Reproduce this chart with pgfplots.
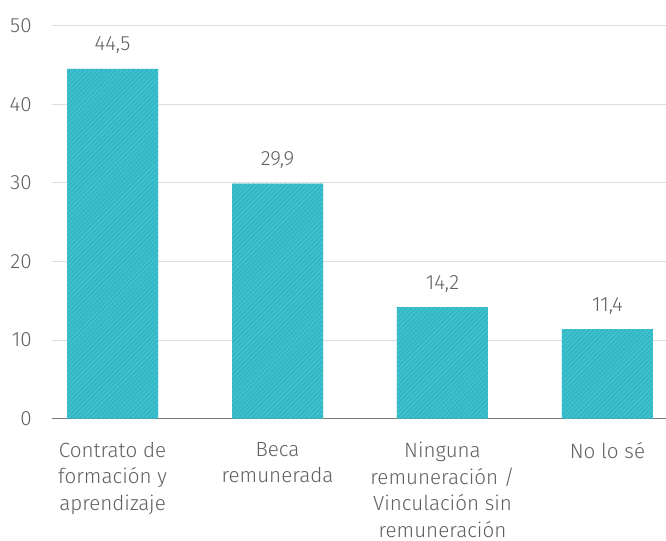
\documentclass[border=0pt]{standalone}
\usepackage{fontspec}
\setmainfont{Fira Sans}[UprightFont={* Light}]
\usepackage{pgfplots}
\pgfplotsset{compat=1.18}
\usetikzlibrary{patterns.meta}
\definecolor{barteal}{RGB}{47,183,197}
\definecolor{stripe}{RGB}{72,196,208}
\definecolor{txt}{RGB}{96,96,96}
\definecolor{grid}{RGB}{221,221,221}
\definecolor{axisc}{RGB}{120,120,120}
\begin{document}
\begin{tikzpicture}
\begin{axis}[
  name=ax,
  scale only axis,
  width=307pt, height=196.5pt,
  xmin=-0.367, xmax=3.355,
  ymin=0, ymax=50,
  ytick={0,10,20,30,40,50},
  xtick={0,1,2,3},
  xticklabels={{Contrato de\\formación y\\aprendizaje},{Beca\\remunerada},{Ninguna\\remuneración /\\Vinculación sin\\remuneración},{No lo sé}},
  major tick length=0pt,
  axis x line*=bottom,
  axis y line*=left,
  y axis line style={draw=none},
  x axis line style={draw=axisc, line width=0.8pt},
  ymajorgrids,
  grid style={draw=grid, line width=0.5pt},
  /pgf/number format/assume math mode=true,
  tick label style={font=\fontsize{10.3}{13.3}\selectfont, text=txt},
  yticklabel style={inner sep=0pt, xshift=-10pt},
  xticklabel style={align=center, inner sep=0pt, yshift=-11.5pt},
  nodes near coords,
  nodes near coords style={font=\fontsize{10.3}{13.3}\selectfont, text=txt, anchor=base, inner sep=0pt, yshift=9pt,
    /pgf/number format/.cd, fixed, fixed zerofill, precision=1, use comma, assume math mode=true},
  clip=false,
]
\addplot[ybar, bar width=45.5pt, draw=none, fill=barteal,
  postaction={pattern={Lines[angle=45,distance=1.6pt,line width=0.55pt]}, pattern color=stripe}]
  coordinates {(0,44.5) (1,29.9) (2,14.2) (3,11.4)};
\end{axis}
\pgfresetboundingbox
\path (ax.south west) ++(-26pt,-61.15pt) coordinate (bl);
\path (ax.north east) ++(0pt,12.85pt) coordinate (tr);
\path (bl) rectangle (tr);
\end{tikzpicture}
\end{document}
